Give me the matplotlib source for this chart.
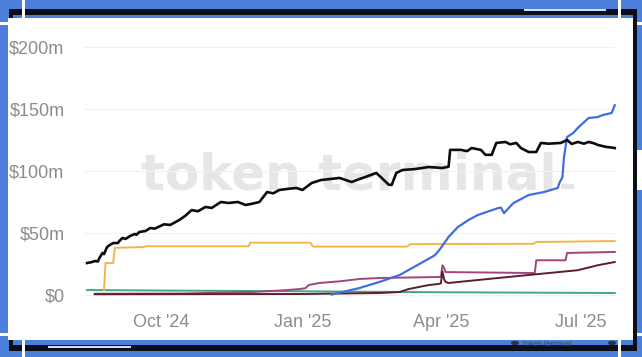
import matplotlib
matplotlib.use("Agg")
import matplotlib.pyplot as plt
from matplotlib.patches import Rectangle, Circle
import pandas as pd

# ---------------- data (values in $m) ----------------
black_dates = ["2024-08-14","2024-08-17","2024-08-19","2024-08-21","2024-08-22","2024-08-24","2024-08-25",
               "2024-08-27","2024-08-29","2024-08-31","2024-09-03","2024-09-04","2024-09-06","2024-09-08",
               "2024-09-11","2024-09-14","2024-09-15","2024-09-17","2024-09-21","2024-09-24","2024-09-27",
               "2024-10-03","2024-10-07","2024-10-13","2024-10-17","2024-10-21","2024-10-25","2024-10-30",
               "2024-11-03","2024-11-09","2024-11-14","2024-11-20","2024-11-25","2024-11-29","2024-12-04",
               "2024-12-09","2024-12-13","2024-12-17","2024-12-22","2024-12-28","2025-01-01","2025-01-07",
               "2025-01-13","2025-01-19","2025-01-25","2025-02-02","2025-02-06","2025-02-11","2025-02-18",
               "2025-02-21","2025-02-26","2025-02-28","2025-03-03","2025-03-07","2025-03-15","2025-03-24",
               "2025-04-02","2025-04-06","2025-04-07","2025-04-14","2025-04-18","2025-04-21","2025-04-27",
               "2025-04-30","2025-05-04","2025-05-07","2025-05-13","2025-05-16","2025-05-20","2025-05-23",
               "2025-05-28","2025-06-02","2025-06-05","2025-06-10","2025-06-18","2025-06-22","2025-06-25",
               "2025-06-29","2025-07-03","2025-07-06","2025-07-09","2025-07-12","2025-07-17","2025-07-23"]
black_vals = [25.8,26.5,27.4,27.0,29.8,33.9,33.0,
              38.7,40.5,41.9,41.9,43.5,46.0,45.2,
              47.6,49.2,48.5,50.8,51.6,54.0,53.5,
              57.0,56.5,60.5,64.0,68.5,67.5,71.0,
              70.2,75.0,74.2,75.0,72.6,73.5,75.0,
              83.0,82.0,84.7,85.5,86.3,84.7,90.3,
              92.7,93.5,94.4,91.1,93.0,95.2,98.4,
              95.0,89.0,88.7,98.4,100.8,101.5,103.2,
              102.4,103.5,117.0,117.0,116.0,118.5,117.0,
              113.0,113.0,122.6,123.4,121.5,122.6,118.5,
              115.3,115.3,122.6,122.0,122.6,125.0,121.8,
              123.4,122.0,123.4,122.5,121.0,119.5,118.5]

blue_dates = ["2025-01-20","2025-01-27","2025-02-07","2025-02-20","2025-03-05","2025-03-18","2025-03-28",
              "2025-03-31","2025-04-06","2025-04-12","2025-04-19","2025-04-25","2025-05-08","2025-05-10",
              "2025-05-12","2025-05-18","2025-05-28","2025-06-07","2025-06-16","2025-06-17","2025-06-19",
              "2025-06-20","2025-06-22","2025-06-26","2025-06-29","2025-07-06","2025-07-12","2025-07-15",
              "2025-07-21","2025-07-23"]
blue_vals = [0.4,2.4,5.6,10.5,16.0,25.0,32.0,
             36.3,46.8,54.8,60.5,64.5,70.0,70.5,
             66.0,74.0,80.6,83.0,86.3,90.3,95.0,
             111.0,127.4,130.6,134.7,142.7,143.5,145.0,
             146.8,153.0]

orange_dates = ["2024-08-25","2024-08-26","2024-08-31","2024-09-01","2024-09-20","2024-09-21","2024-11-27",
                "2024-11-28","2025-01-06","2025-01-08","2025-03-10","2025-03-12","2025-05-31","2025-06-02",
                "2025-07-23"]
orange_vals = [4.0,25.8,25.8,38.0,38.7,39.3,39.3,
               42.2,42.2,39.0,39.0,41.0,41.3,42.7,
               43.5]

green_dates = ["2024-08-14","2024-10-01","2025-01-01","2025-04-01","2025-07-23"]
green_vals = [4.0,3.6,3.0,2.2,1.6]

purple_dates = ["2024-08-19","2024-10-15","2024-12-01","2024-12-20","2024-12-30","2025-01-03","2025-01-05",
                "2025-01-12","2025-01-25","2025-02-07","2025-02-20","2025-03-31","2025-04-01","2025-04-02",
                "2025-04-03","2025-04-04","2025-06-01","2025-06-02","2025-06-21","2025-06-22","2025-07-23"]
purple_vals = [1.0,1.2,2.5,3.8,4.8,5.5,8.0,
               9.7,11.0,12.9,13.7,14.5,14.6,24.0,
               22.0,18.5,17.7,28.0,28.0,33.9,34.7]

maroon_dates = ["2024-08-19","2025-01-01","2025-02-20","2025-03-05","2025-03-11","2025-03-24","2025-03-31",
                "2025-04-01","2025-04-02","2025-04-03","2025-04-04","2025-04-06","2025-05-08","2025-06-10",
                "2025-06-29","2025-07-12","2025-07-23"]
maroon_vals = [0.6,0.8,1.6,2.4,4.8,8.0,9.0,
               9.5,19.0,13.0,10.5,9.7,13.7,17.7,
               20.0,24.0,26.6]

y_ticks = [0, 50, 100, 150, 200]
y_labels = ["$0", "$50m", "$100m", "$150m", "$200m"]
x_ticks = ["2024-10-01", "2025-01-01", "2025-04-01", "2025-07-01"]
x_labels = ["Oct '24", "Jan '25", "Apr '25", "Jul '25"]

# ---------------- figure ----------------
W, H = 642, 357
fig = plt.figure(figsize=(W / 100, H / 100), dpi=100)
fig.patch.set_facecolor("#4B7FDB")

def px_rect(x0, y0, x1, y1, color, z=-10):
    r = Rectangle((x0 / W, 1 - y1 / H), (x1 - x0) / W, (y1 - y0) / H,
                  transform=fig.transFigure, facecolor=color, edgecolor="none", zorder=z)
    fig.add_artist(r)

# decorative frame
px_rect(9, 9, 637, 15, "#0b0f1a", z=-12)       # top black line
px_rect(9, 345, 637, 351, "#0b0f1a", z=-12)    # bottom black line
px_rect(9, 9, 13, 351, "#0b0f1a", z=-12)       # left black
px_rect(633, 9, 637, 351, "#0b0f1a", z=-12)    # right black
px_rect(8, 18, 633, 340, "white", z=-11)       # white panel
px_rect(22, 0, 25, 18, "white", z=-9)
px_rect(22, 340, 25, 357, "white", z=-9)
px_rect(618, 0, 621, 18, "white", z=-9)
px_rect(618, 340, 621, 357, "white", z=-9)
px_rect(0, 22, 8, 25, "white", z=-9)
px_rect(0, 333, 8, 336, "white", z=-9)
px_rect(637, 22, 642, 25, "white", z=-9)
px_rect(637, 333, 642, 336, "white", z=-9)
px_rect(637, 150, 642, 190, "white", z=-9)
px_rect(524, 9, 606, 11, "#cfe0f7", z=-9)
px_rect(48, 346, 131, 348, "#cfe0f7", z=-9)

# small logo in bottom strip (mostly hidden)
fig.add_artist(Circle((515 / W, 1 - 343 / H), 4 / W, transform=fig.transFigure,
                      facecolor="#2b3344", edgecolor="none", zorder=-8))
fig.add_artist(Circle((612 / W, 1 - 343 / H), 4 / W, transform=fig.transFigure,
                      facecolor="#2b3344", edgecolor="none", zorder=-8))
fig.text(523 / W, 1 - 344 / H, "token terminal", fontsize=5.5, color="#33415c",
         va="center", ha="left", zorder=-8, family="Liberation Sans")

# watermark
fig.text(141 / W, 1 - 189 / H, "token terminal", fontsize=36, fontweight="bold",
         color="#e6e6e6", ha="left", va="baseline", zorder=-5, family="DejaVu Sans")
px_rect(561, 184, 574, 189, "#e6e6e6", z=-5)

# axes
ax = fig.add_axes([84 / W, 1 - 300 / H, 531 / W, 260 / H])
ax.set_facecolor("none")
for s in ax.spines.values():
    s.set_visible(False)

def d(lst):
    return pd.to_datetime(lst)

lw = 1.4
ax.plot(d(green_dates), green_vals, color="#3FA97F", lw=lw, zorder=3, clip_on=False)
ax.plot(d(maroon_dates), maroon_vals, color="#5A1E2C", lw=lw, zorder=3.2, clip_on=False)
ax.plot(d(purple_dates), purple_vals, color="#A4447F", lw=lw, zorder=3.1, clip_on=False)
ax.plot(d(orange_dates), orange_vals, color="#F2B54C", lw=lw, zorder=3, clip_on=False)
ax.plot(d(blue_dates), blue_vals, color="#3D6FE0", lw=1.6, zorder=3.5, clip_on=False)
ax.plot(d(black_dates), black_vals, color="#0d0d0d", lw=1.9, zorder=4, clip_on=False)

ax.set_xlim(pd.Timestamp("2024-08-12"), pd.Timestamp("2025-07-23 04:00"))
ax.set_ylim(-4.03, 205.6)

ax.set_yticks(y_ticks)
ax.set_yticklabels(y_labels)
ax.set_xticks(d(x_ticks))
ax.set_xticklabels(x_labels)
ax.tick_params(axis="both", length=0, labelcolor="#8c8c8c", labelsize=13)
ax.tick_params(axis="y", pad=14)
ax.tick_params(axis="x", pad=10)
for lab in ax.get_xticklabels() + ax.get_yticklabels():
    lab.set_family("Liberation Sans")
ax.yaxis.grid(True, color="#f1f1f1", lw=0.8, zorder=0)
ax.xaxis.grid(False)
ax.set_axisbelow(True)

fig.savefig("out.png", dpi=100, facecolor=fig.get_facecolor())
